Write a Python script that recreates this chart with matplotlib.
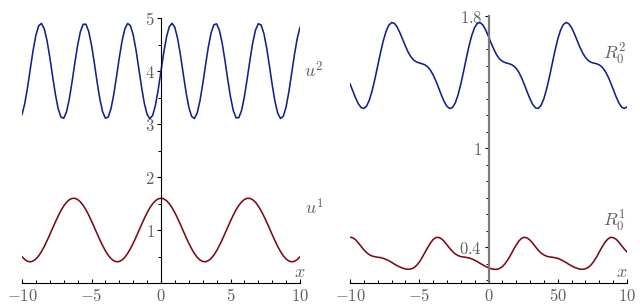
import numpy as np
import matplotlib
matplotlib.use('Agg')
import matplotlib.pyplot as plt
from matplotlib.ticker import FixedLocator, FixedFormatter, MultipleLocator

# values, x = -10 .. 10 in steps of 0.2
x = np.linspace(-10, 10, 101)

u1_half = [0.497, 0.442, 0.409, 0.400, 0.415, 0.453, 0.513, 0.593, 0.688, 0.797, 0.913, 1.032, 1.151, 1.263,
           1.365, 1.452, 1.522, 1.570, 1.596, 1.598, 1.576, 1.531, 1.465, 1.381, 1.281, 1.170, 1.052, 0.933,
           0.816, 0.706, 0.608, 0.525, 0.462, 0.420, 0.401, 0.406, 0.435, 0.486, 0.558, 0.647, 0.750, 0.864,
           0.982, 1.102, 1.217, 1.324, 1.418, 1.495, 1.553, 1.588, 1.600]
u1 = u1_half + u1_half[-2::-1]  # symmetric about x = 0

u2 = [3.178, 3.386, 3.691, 4.045, 4.391, 4.676, 4.854, 4.897, 4.799, 4.574, 4.259, 3.903, 3.562, 3.291,
      3.131, 3.108, 3.227, 3.467, 3.792, 4.149, 4.483, 4.741, 4.881, 4.883, 4.745, 4.490, 4.157, 3.799,
      3.474, 3.231, 3.110, 3.129, 3.286, 3.555, 3.895, 4.251, 4.568, 4.795, 4.897, 4.856, 4.681, 4.398,
      4.053, 3.699, 3.392, 3.182, 3.100, 3.161, 3.354, 3.650, 4.000,
      4.350, 4.646, 4.839, 4.900, 4.818, 4.608, 4.301, 3.947, 3.602, 3.319, 3.144, 3.103, 3.205, 3.432,
      3.749, 4.105, 4.445, 4.714, 4.871, 4.890, 4.769, 4.526, 4.201, 3.843, 3.510, 3.255, 3.117, 3.119,
      3.259, 3.517, 3.851, 4.208, 4.533, 4.773, 4.892, 4.869, 4.709, 4.438, 4.097, 3.741, 3.426, 3.201,
      3.103, 3.146, 3.324, 3.609, 3.955, 4.309, 4.614, 4.822]

R1 = [0.461, 0.458, 0.446, 0.427, 0.406, 0.385, 0.368, 0.355, 0.347, 0.343, 0.340, 0.338, 0.333, 0.327,
      0.319, 0.309, 0.299, 0.289, 0.281, 0.274, 0.269, 0.267, 0.269, 0.276, 0.290, 0.310, 0.337, 0.367,
      0.397, 0.425, 0.447, 0.459, 0.460, 0.452, 0.436, 0.415, 0.394, 0.375, 0.360, 0.350, 0.344, 0.341,
      0.339, 0.335, 0.330, 0.322, 0.313, 0.303, 0.293, 0.284, 0.276, 0.270, 0.267, 0.267, 0.272, 0.283,
      0.301, 0.325, 0.354, 0.385, 0.414, 0.439, 0.455, 0.461, 0.456, 0.443, 0.424, 0.402, 0.382, 0.365,
      0.354, 0.346, 0.342, 0.340, 0.337, 0.333, 0.326, 0.317, 0.308, 0.297, 0.288, 0.279, 0.273, 0.268,
      0.267, 0.270, 0.278, 0.293, 0.314, 0.341, 0.372, 0.402, 0.429, 0.449, 0.460, 0.459, 0.450, 0.432,
      0.411, 0.390, 0.372]

R2 = [1.390, 1.347, 1.304, 1.269, 1.246, 1.240, 1.255, 1.292, 1.348, 1.419, 1.498, 1.577, 1.649, 1.706,
      1.744, 1.760, 1.756, 1.734, 1.699, 1.659, 1.618, 1.581, 1.553, 1.533, 1.522, 1.516, 1.511, 1.505,
      1.493, 1.473, 1.444, 1.407, 1.365, 1.321, 1.282, 1.253, 1.240, 1.246, 1.274, 1.322, 1.388, 1.464,
      1.545, 1.621, 1.685, 1.731, 1.756, 1.760, 1.745, 1.715, 1.676, 1.634, 1.596, 1.563, 1.540, 1.526,
      1.518, 1.513, 1.508, 1.499, 1.483, 1.458, 1.424, 1.383, 1.339, 1.298, 1.264, 1.243, 1.241, 1.260,
      1.300, 1.359, 1.432, 1.511, 1.590, 1.660, 1.714, 1.748, 1.761, 1.753, 1.729, 1.693, 1.652, 1.611,
      1.576, 1.549, 1.531, 1.520, 1.515, 1.511, 1.504, 1.491, 1.469, 1.439, 1.400, 1.357, 1.314, 1.276,
      1.250, 1.240, 1.250]

xticks = [-10, -5, 0, 5, 10]
xlabels_left = ['$-10$', '$-5$', '$0$', '$5$', '$10$']
xlabels_right = ['$-10$', '$-5$', '$0$', '$50$', '$10$']
yticks_left = [1, 2, 3, 4, 5]
yticks_right = [0.4, 1, 1.8]
ylabels_right = ['$0.4$', '$1$', '$1.8$']

RED = '#7A0A16'
BLUE = '#12208C'
GREY = '#606060'

plt.rcParams['mathtext.fontset'] = 'cm'
fig = plt.figure(figsize=(6.4, 3.07), dpi=100)
ax1 = fig.add_axes([22/640, 24/307, 278/640, 265/307])
ax2 = fig.add_axes([350/640, 24/307, 277/640, 267/307])

ax1.plot(x, u1, color=RED, lw=1.15)
ax1.plot(x, u2, color=BLUE, lw=1.15)
ax2.plot(x, R1, color=RED, lw=1.15)
ax2.plot(x, R2, color=BLUE, lw=1.15)

ax1.set_xlim(-10, 10)
ax1.set_ylim(0, 5)
ax2.set_xlim(-10, 10)
ax2.set_ylim(0.184, 1.8)

for ax in (ax1, ax2):
    ax.patch.set_visible(False)
    ax.spines['top'].set_visible(False)
    ax.spines['right'].set_visible(False)
    ax.spines['left'].set_position(('data', 0))
    ax.spines['bottom'].set_linewidth(0.8)
    ax.xaxis.set_major_locator(FixedLocator(xticks))
    ax.xaxis.set_minor_locator(MultipleLocator(1))
    ax.tick_params(axis='x', which='both', direction='in', pad=3, labelsize=12, labelcolor=GREY)
    ax.tick_params(axis='x', which='major', length=3, width=0.8)
    ax.tick_params(axis='x', which='minor', length=2, width=0.7)
    ax.tick_params(axis='y', which='both', direction='out', pad=1.5, labelsize=12, labelcolor=GREY)
    ax.tick_params(axis='y', which='major', length=3, width=0.8)
    ax.tick_params(axis='y', which='minor', length=2, width=0.7)

ax1.spines['left'].set_linewidth(0.8)
ax1.xaxis.set_major_formatter(FixedFormatter(xlabels_left))
ax1.yaxis.set_major_locator(FixedLocator(yticks_left))
ax1.yaxis.set_major_formatter(FixedFormatter(['$%d$' % v for v in yticks_left]))
ax1.yaxis.set_minor_locator(MultipleLocator(0.5))

ax2.spines['left'].set_linewidth(1.6)
ax2.spines['left'].set_color('#7a7a7a')
ax2.xaxis.set_major_formatter(FixedFormatter(xlabels_right))
ax2.yaxis.set_major_locator(FixedLocator(yticks_right))
ax2.yaxis.set_major_formatter(FixedFormatter(ylabels_right))
ax2.yaxis.set_minor_locator(MultipleLocator(0.1))

lab = dict(color=GREY, fontsize=13, ha='center', va='center', clip_on=False)
ax1.text(11.0, 4.0, r'$u^2$', **lab)
ax1.text(11.0, 1.42, r'$u^1$', **lab)
ax1.text(10.0, 0.21, r'$x$', **lab)
ax2.text(9.1, 1.567, r'$R_0^2$', **lab)
ax2.text(9.1, 0.555, r'$R_0^1$', **lab)
ax2.text(9.6, 0.25, r'$x$', **lab)

fig.savefig('out.png')
